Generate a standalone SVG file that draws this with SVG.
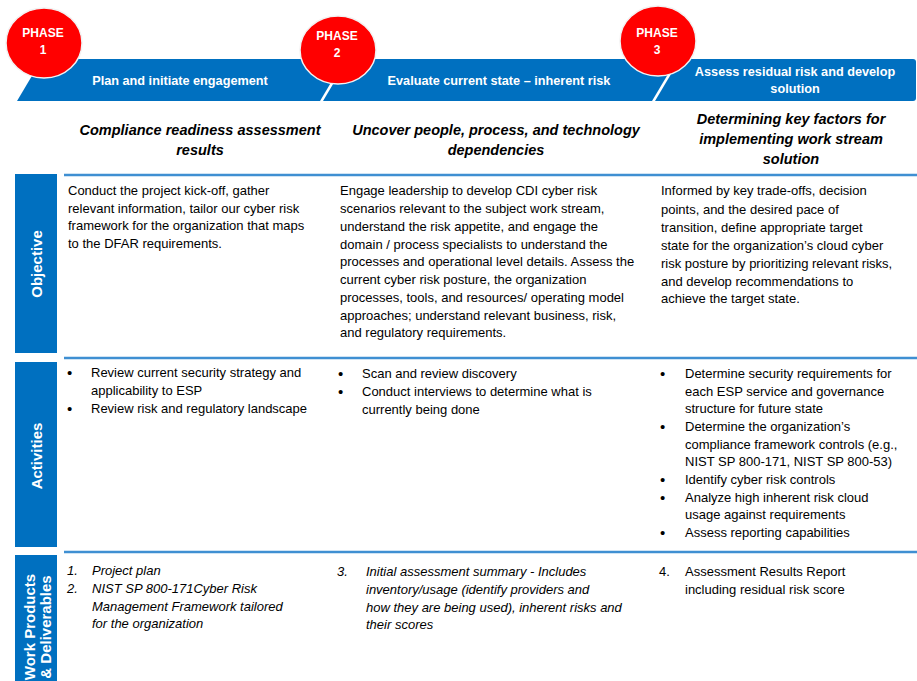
<svg xmlns="http://www.w3.org/2000/svg" width="917" height="681" viewBox="0 0 917 681">
<style>
text{font-family:"Liberation Sans",Arial,sans-serif;}
.bn{fill:#0070C0;}
.ph{fill:#FF0000;stroke:#f2f2f2;stroke-width:1.5;}
.pht{fill:#fff;font-size:12px;font-weight:bold;text-anchor:middle;}
.bt{fill:#fff;font-size:12.7px;font-weight:bold;text-anchor:middle;}
.hd{fill:#000;font-size:14.5px;font-weight:bold;font-style:italic;text-anchor:middle;}
.lbl{fill:#0070C0;}
.lt{fill:#fff;font-size:15px;font-weight:bold;text-anchor:middle;}
.b{fill:#000;font-size:13px;}
.bu{fill:#000;font-size:15px;}
.i{font-style:italic;}
.rule{stroke:#3F8FD2;stroke-width:2.5;fill:none;}
</style>

<g id="banner">
  <polygon class="bn" points="42,59 345,59 320,101 17,101"/>
  <polygon class="bn" points="348,59 677,59 652,101 323,101"/>
  <path class="bn" d="M680,59 L913,59 Q916,59 916,62 L916,98 Q916,101 913,101 L655,101 Z"/>
  <text class="bt" x="180" y="85">Plan and initiate engagement</text>
  <text class="bt" x="499" y="85">Evaluate current state – inherent risk</text>
  <text class="bt" x="795" y="76">Assess residual risk and develop</text>
  <text class="bt" x="795" y="93">solution</text>
</g>

<g id="phase1">
  <ellipse class="ph" cx="44" cy="43" rx="38" ry="35"/>
  <text class="pht" x="43" y="37">PHASE</text>
  <text class="pht" x="43" y="54">1</text>
</g>
<g id="phase2">
  <ellipse class="ph" cx="338" cy="50" rx="38" ry="34"/>
  <text class="pht" x="337" y="40">PHASE</text>
  <text class="pht" x="337" y="57">2</text>
</g>
<g id="phase3">
  <ellipse class="ph" cx="658" cy="41" rx="38" ry="35"/>
  <text class="pht" x="657" y="37">PHASE</text>
  <text class="pht" x="657" y="54">3</text>
</g>

<g id="headings">
  <text class="hd" x="200" y="135">Compliance readiness assessment</text>
  <text class="hd" x="200" y="155">results</text>
  <text class="hd" x="496" y="135">Uncover people, process, and technology</text>
  <text class="hd" x="496" y="155">dependencies</text>
  <text class="hd" x="791" y="124">Determining key factors for</text>
  <text class="hd" x="791" y="144">implementing work stream</text>
  <text class="hd" x="791" y="164">solution</text>
</g>

<g id="connectors">
  <line class="rule" x1="64" y1="175" x2="917" y2="175"/>
  <line class="rule" x1="64" y1="358" x2="917" y2="358"/>
  <line class="rule" x1="64" y1="552" x2="917" y2="552"/>
</g>

<g id="label-objective">
  <rect class="lbl" x="15" y="174" width="42" height="179"/>
  <text class="lt" transform="translate(42,264) rotate(-90)">Objective</text>
</g>
<g id="label-activities">
  <rect class="lbl" x="15" y="362" width="42" height="185"/>
  <text class="lt" transform="translate(42,456) rotate(-90)">Activities</text>
</g>
<g id="label-work">
  <rect class="lbl" x="15" y="555" width="42" height="130"/>
  <text class="lt" transform="translate(35,627) rotate(-90)">Work Products</text>
  <text class="lt" transform="translate(51,627) rotate(-90)">&amp; Deliverables</text>
</g>

<g id="objective-1">
  <text class="b" x="68" y="195">Conduct the project kick-off, gather</text>
  <text class="b" x="68" y="213">relevant information, tailor our cyber risk</text>
  <text class="b" x="68" y="230">framework for the organization that maps</text>
  <text class="b" x="68" y="248">to the DFAR requirements.</text>
</g>
<g id="objective-2">
  <text class="b" x="340" y="195">Engage leadership to develop CDI cyber risk</text>
  <text class="b" x="340" y="213">scenarios relevant to the subject work stream,</text>
  <text class="b" x="340" y="231">understand the risk appetite, and engage the</text>
  <text class="b" x="340" y="249">domain / process specialists to understand the</text>
  <text class="b" x="340" y="266">processes and operational level details. Assess the</text>
  <text class="b" x="340" y="284">current cyber risk posture, the organization</text>
  <text class="b" x="340" y="302">processes, tools, and resources/ operating model</text>
  <text class="b" x="340" y="320">approaches; understand relevant business, risk,</text>
  <text class="b" x="340" y="337">and regulatory requirements.</text>
</g>
<g id="objective-3">
  <text class="b" x="661" y="195">Informed by key trade-offs, decision</text>
  <text class="b" x="661" y="214">points, and the desired pace of</text>
  <text class="b" x="661" y="232">transition, define appropriate target</text>
  <text class="b" x="661" y="250">state for the organization’s cloud cyber</text>
  <text class="b" x="661" y="268">risk posture by prioritizing relevant risks,</text>
  <text class="b" x="661" y="286">and develop recommendations to</text>
  <text class="b" x="661" y="303">achieve the target state.</text>
</g>

<g id="activities-1">
  <text class="bu" x="67" y="378">•</text>
  <text class="b" x="91" y="377">Review current security strategy and</text>
  <text class="b" x="91" y="395">applicability to ESP</text>
  <text class="bu" x="67" y="414">•</text>
  <text class="b" x="91" y="413">Review risk and regulatory landscape</text>
</g>
<g id="activities-2">
  <text class="bu" x="338" y="379">•</text>
  <text class="b" x="362" y="378">Scan and review discovery</text>
  <text class="bu" x="338" y="397">•</text>
  <text class="b" x="362" y="396">Conduct interviews to determine what is</text>
  <text class="b" x="362" y="414">currently being done</text>
</g>
<g id="activities-3">
  <text class="bu" x="660" y="379">•</text>
  <text class="b" x="685" y="378">Determine security requirements for</text>
  <text class="b" x="685" y="396">each ESP service and governance</text>
  <text class="b" x="685" y="413">structure for future state</text>
  <text class="bu" x="660" y="432">•</text>
  <text class="b" x="685" y="431">Determine the organization’s</text>
  <text class="b" x="685" y="449">compliance framework controls (e.g.,</text>
  <text class="b" x="685" y="466">NIST SP 800-171, NIST SP 800-53)</text>
  <text class="bu" x="660" y="485">•</text>
  <text class="b" x="685" y="484">Identify cyber risk controls</text>
  <text class="bu" x="660" y="503">•</text>
  <text class="b" x="685" y="502">Analyze high inherent risk cloud</text>
  <text class="b" x="685" y="519">usage against requirements</text>
  <text class="bu" x="660" y="538">•</text>
  <text class="b" x="685" y="537">Assess reporting capabilities</text>
</g>

<g id="work-1">
  <text class="b i" x="67" y="575">1.</text>
  <text class="b i" x="92" y="575">Project plan</text>
  <text class="b i" x="67" y="593">2.</text>
  <text class="b i" x="92" y="593">NIST SP 800-171Cyber Risk</text>
  <text class="b i" x="92" y="611">Management Framework tailored</text>
  <text class="b i" x="92" y="628">for the organization</text>
</g>
<g id="work-2">
  <text class="b i" x="337" y="576">3.</text>
  <text class="b i" x="366" y="576">Initial assessment summary - Includes</text>
  <text class="b i" x="366" y="594">inventory/usage (identify providers and</text>
  <text class="b i" x="366" y="612">how they are being used), inherent risks and</text>
  <text class="b i" x="366" y="629">their scores</text>
</g>
<g id="work-3">
  <text class="b" x="659" y="576">4.</text>
  <text class="b" x="685" y="576">Assessment Results Report</text>
  <text class="b" x="685" y="594">including residual risk score</text>
</g>
</svg>
